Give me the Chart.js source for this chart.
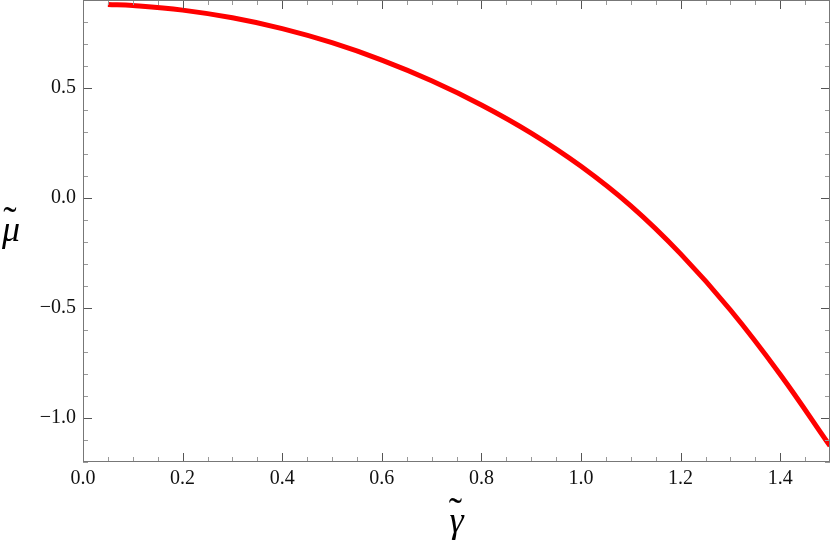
<!DOCTYPE html>
<html>
<head>
<meta charset="utf-8">
<script src="https://cdn.jsdelivr.net/npm/chart.js@4.4.1/dist/chart.umd.min.js"></script>
<style>
  html, body { margin: 0; padding: 0; background: #fff; }
</style>
</head>
<body>
<canvas id="chart" width="830" height="545"></canvas>
<script>
// gamma tilde vs mu tilde
const gamma = [0.05, 0.1, 0.2, 0.3, 0.4, 0.5, 0.6, 0.7, 0.8, 0.9, 1.0, 1.1, 1.2, 1.3, 1.4, 1.5];
const mu = [0.880, 0.875, 0.854, 0.819, 0.770, 0.706, 0.627, 0.533, 0.423, 0.295, 0.144, -0.036, -0.254, -0.509, -0.802, -1.127];

const xTicks = [0.0, 0.2, 0.4, 0.6, 0.8, 1.0, 1.2, 1.4];
const yTicks = [-1.0, -0.5, 0.0, 0.5];
const xMinorStep = 0.05;
const yMinorStep = 0.1;

const SERIF = "'Liberation Serif', 'DejaVu Serif', serif";

function fmt(v) {
  return v.toFixed(1).replace("-", "\u2212");
}

// letter with a tilde on top (combining tilde is not placed by the font)
function tildeLetter(ctx, letter, cx, base, size) {
  ctx.font = "italic " + size + "px " + SERIF;
  ctx.textAlign = "center";
  ctx.textBaseline = "alphabetic";
  ctx.fillText(letter, cx, base);
  ctx.font = Math.round(size * 1.1) + "px " + SERIF;
  ctx.fillText("\u02dc", cx - 1, base - size * 0.2);
}

// inward ticks on all four sides + frame, Mathematica style
const frameTicks = {
  id: "frameTicks",
  afterDraw(chart) {
    const { ctx, chartArea: a, scales } = chart;
    const xs = scales.x, ys = scales.y;
    ctx.save();
    ctx.lineWidth = 1;

    const tick = (isX, v, len, color) => {
      ctx.strokeStyle = color;
      ctx.beginPath();
      if (isX) {
        const px = Math.round(xs.getPixelForValue(v)) + 0.5;
        ctx.moveTo(px, a.bottom); ctx.lineTo(px, a.bottom - len);
        ctx.moveTo(px, a.top); ctx.lineTo(px, a.top + len);
      } else {
        const py = Math.round(ys.getPixelForValue(v)) + 0.5;
        ctx.moveTo(a.left, py); ctx.lineTo(a.left + len, py);
        ctx.moveTo(a.right, py); ctx.lineTo(a.right - len, py);
      }
      ctx.stroke();
    };

    for (let v = xs.min; v <= xs.max + 1e-9; v += xMinorStep) {
      const major = xTicks.some(t => Math.abs(t - v) < 1e-6);
      if (!major) tick(true, v, 5, "#999");
    }
    xTicks.forEach(v => tick(true, v, 9, "#555"));

    for (let v = ys.min; v <= ys.max + 1e-9; v += yMinorStep) {
      const major = yTicks.some(t => Math.abs(t - v) < 1e-6);
      if (!major) tick(false, v, 5, "#999");
    }
    yTicks.forEach(v => tick(false, v, 9, "#555"));

    // frame
    ctx.strokeStyle = "#777";
    ctx.strokeRect(a.left + 0.5, a.top + 0.5, a.right - a.left - 1, a.bottom - a.top - 1);

    // axis titles
    ctx.fillStyle = "#000";
    tildeLetter(ctx, "\u03b3", (a.left + a.right) / 2, 532, 36);
    tildeLetter(ctx, "\u03bc", 11, 241, 36);
    ctx.restore();
  }
};

const noPad = s => {
  s.paddingTop = 0; s.paddingBottom = 0;
  s.paddingLeft = 0; s.paddingRight = 0;
};

new Chart(document.getElementById("chart"), {
  type: "line",
  data: {
    datasets: [{
      data: gamma.map((g, i) => ({ x: g, y: mu[i] })),
      borderColor: "#ff0000",
      borderWidth: 5,
      pointRadius: 0,
      tension: 0.4,
      fill: false,
    }],
  },
  options: {
    responsive: false,
    animation: false,
    layout: { padding: 0 },
    plugins: {
      legend: { display: false },
      tooltip: { enabled: false },
    },
    scales: {
      x: {
        type: "linear",
        min: 0,
        max: 1.5,
        afterFit: s => { s.height = 83; noPad(s); },
        afterBuildTicks: s => { s.ticks = xTicks.map(v => ({ value: v })); },
        grid: { display: false, drawTicks: false },
        border: { display: false },
        ticks: {
          padding: 5,
          color: "#111",
          font: { family: SERIF, size: 20 },
          callback: v => fmt(v),
        },
      },
      y: {
        type: "linear",
        min: -1.2,
        max: 0.9,
        afterFit: s => { s.width = 83; noPad(s); },
        afterBuildTicks: s => { s.ticks = yTicks.map(v => ({ value: v })); },
        grid: { display: false, drawTicks: false },
        border: { display: false },
        ticks: {
          padding: 7,
          color: "#111",
          font: { family: SERIF, size: 20 },
          callback: v => fmt(v),
        },
      },
    },
  },
  plugins: [frameTicks],
});
</script>
</body>
</html>
